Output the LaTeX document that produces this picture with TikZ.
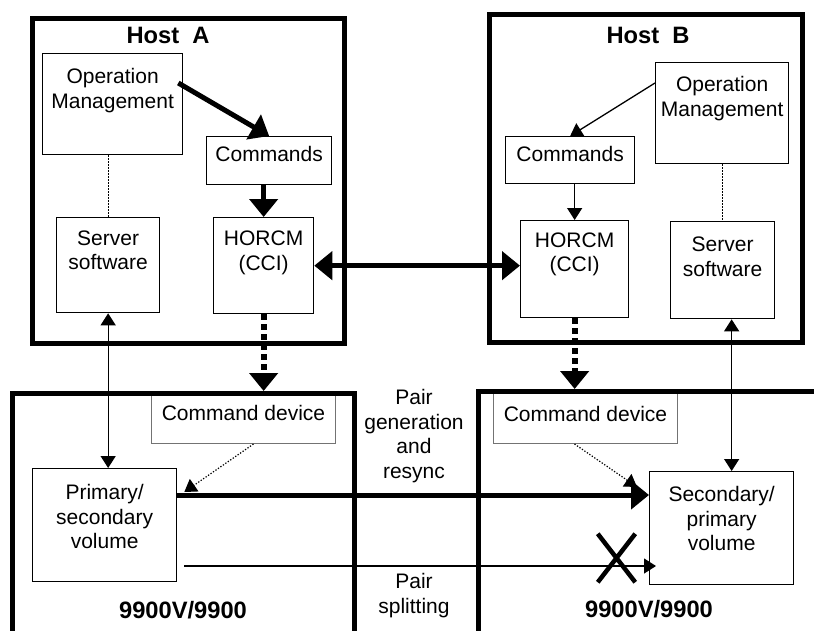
\documentclass[tikz,border=0pt]{standalone}
\usepackage{fontspec}
\setmainfont{Liberation Sans}
\usetikzlibrary{arrows.meta, positioning, calc, shapes.misc}

% box text: width, height, top padding, lines
\newcommand{\boxtext}[4]{\parbox[t][#2pt][t]{#1pt}{\centering\vspace*{#3pt}#4}}

\begin{document}
\begin{tikzpicture}[
  x=1pt,
  y=-1pt,
  font=\fontsize{21}{24.5}\selectfont,
  unit/.style={draw, line width=1.3pt, inner sep=0pt, anchor=north west},
  device/.style={unit, draw=black!55, line width=1pt},
  frame/.style={draw, line width=5pt, inner sep=0pt, anchor=north west},
  title/.style={font=\fontsize{23.7}{27}\selectfont\bfseries, inner sep=0pt, anchor=north},
  note/.style={align=center, inner sep=0pt, anchor=north},
  flow/.style={-{Triangle[length=12pt, width=15pt]}, line width=1.3pt},
  bigflow/.style={-{Triangle[length=18pt, width=28pt]}, line width=5pt},
  dotline/.style={dash pattern=on 1.3pt off 1.7pt, line width=1.2pt},
  dashline/.style={dash pattern=on 6pt off 4pt, line width=6pt}
]
\useasboundingbox (0,0) rectangle (814,630);
\clip (0,0) rectangle (814,630);

% Hosts
\node[frame, minimum width=312pt, minimum height=324.5pt] (hostA) at (29.5,16) {};
\node[frame, minimum width=313pt, minimum height=328pt] (hostB) at (486.5,11.5) {};
\node[title] (titleA) at (168,26.5) {Host~~A};
\node[title] (titleB) at (648,26.5) {Host~~B};

% Host A units
\node[unit] (omA) at (42,53) {\boxtext{140}{101}{15}{Operation\\Management}};
\node[unit] (cmdA) at (206,136) {\boxtext{125}{48}{10}{Commands}};
\node[unit] (srvA) at (56,217) {\boxtext{103}{95}{13}{Server\\software}};
\node[unit] (horA) at (213,217) {\boxtext{100}{96}{13.5}{HORCM\\(CCI)}};

% Host B units
\node[unit] (omB) at (655,62) {\boxtext{133}{101}{14}{Operation\\Management}};
\node[unit] (cmdB) at (505,136) {\boxtext{129}{47}{10}{Commands}};
\node[unit] (horB) at (520,220) {\boxtext{108}{97}{12}{HORCM\\(CCI)}};
\node[unit] (srvB) at (670,221) {\boxtext{104}{97}{15.5}{Server\\software}};

% Storage
\node[device] (devA) at (151,391) {\boxtext{184}{52}{14}{Command device}};
\node[device] (devB) at (493,391) {\boxtext{184}{52}{15}{Command device}};
\node[frame, minimum width=341.5pt, minimum height=300pt] (storA) at (10,391) {};
\node[frame, minimum width=400pt, minimum height=300pt] (storB) at (476,389) {};
\node[unit] (volA) at (32,468) {\boxtext{144}{113}{16}{Primary/\\secondary\\volume}};
\node[unit] (volB) at (649,471) {\boxtext{144}{113}{15}{Secondary/\\primary\\volume}};
\node[title] (typeA) at (183,601.5) {9900V/9900};
\node[title] (typeB) at (649,600.5) {9900V/9900};

% Notes between storage
\node[note] (syncnote) at (414,389.5) {Pair\\generation\\and\\resync};
\node[note] (splitnote) at (414,573.5) {Pair\\splitting};

% Inside hosts
\draw[bigflow] ([xshift=-5pt, yshift=-30pt]omA.north east) -- (cmdA.north);
\draw[bigflow] (cmdA.south -| horA.north) -- (horA.north);
\draw[flow] ([yshift=-21pt]omB.north west) -- (cmdB.north);
\draw[flow] (cmdB.south -| horB.north) -- (horB.north);
\draw[dotline] (omA.south -| srvA.north) -- (srvA.north);
\draw[dotline] (omB.south -| srvB.north) -- (srvB.north);

% Host to host
\draw[bigflow, {Triangle[length=18pt, width=28pt]}-{Triangle[length=18pt, width=28pt]}] (horA.east) -- (horA.east -| horB.west);

% Host to storage
\draw[bigflow, dashline] (horA.south) -- (horA.south |- storA.north);
\draw[bigflow, dashline] (horB.south) -- (horB.south |- storB.north);
\draw[flow, {Triangle[length=12pt, width=15pt]}-{Triangle[length=12pt, width=15pt]}] (srvA.south) -- (srvA.south |- volA.north);
\draw[flow, {Triangle[length=12pt, width=15pt]}-{Triangle[length=12pt, width=15pt]}] ([xshift=9pt]srvB.south) -- ([xshift=9pt]srvB.south |- volB.north);

% Inside storage
\draw[flow, dotline] ([xshift=10pt]devA.south) -- ([xshift=7pt, yshift=-24pt]volA.north east);
\draw[flow, dotline] ([xshift=-11pt]devB.south) -- ([xshift=-12pt, yshift=-16pt]volB.north west);

% Pair operations
\draw[bigflow] ([yshift=-27pt]volA.north east) -- ([yshift=-27pt]volA.north east -| volB.west);
\draw[flow] ([xshift=7pt, yshift=-98pt]volA.north east) -- ([xshift=7pt, yshift=-98pt]volA.north east -| volB.west);
\node[cross out, draw, line width=4.5pt, minimum width=33pt, minimum height=44pt, inner sep=0pt] (cut) at (616.5,558) {};

\end{tikzpicture}
\end{document}
